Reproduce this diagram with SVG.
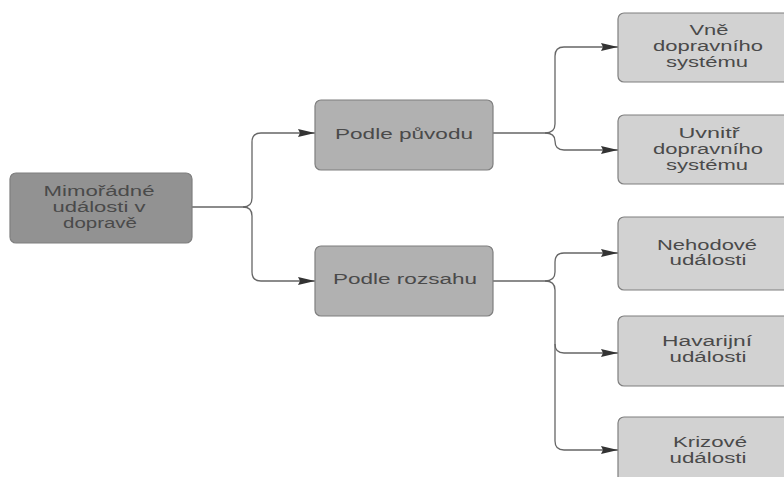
<svg xmlns="http://www.w3.org/2000/svg" width="784" height="477" viewBox="0 0 784 477">
<style>
  .n rect { stroke: #7f7f7f; stroke-width: 1.2; }
  .root rect { fill: #929292; }
  .mid rect { fill: #b1b1b1; }
  .leaf rect { fill: #d2d2d2; }
  text { font-family: "Liberation Sans", Arial, sans-serif; font-size: 14px; fill: #4a4a4a; text-anchor: middle; }
  .c path { fill: none; stroke: #666; stroke-width: 1.3; }
</style>
<defs>
  <marker id="ah" viewBox="0 0 17 8" refX="17" refY="4" markerWidth="17" markerHeight="8" markerUnits="userSpaceOnUse" orient="auto">
    <path d="M0,0 L17,4 L0,8 L2,4 Z" fill="#333"/>
  </marker>
</defs>
<rect width="784" height="477" fill="#fff"/>
<g class="c">
  <path d="M192,207 H243 Q252,207 252,198 V142 Q252,133 261,133 H315" marker-end="url(#ah)"/>
  <path d="M243,207 Q252,207 252,216 V272 Q252,281 261,281 H315" marker-end="url(#ah)"/>
  <path d="M493,133 H545 Q555,133 555,124 V56 Q555,47 564,47 H618" marker-end="url(#ah)"/>
  <path d="M545,133 Q555,133 555,141 Q555,150 564,150 H618" marker-end="url(#ah)"/>
  <path d="M493,281 H545 Q555,281 555,272 V262 Q555,253 564,253 H618" marker-end="url(#ah)"/>
  <path d="M545,281 Q555,281 555,290 V344 Q555,353 564,353 H618" marker-end="url(#ah)"/>
  <path d="M555,344 V441 Q555,450 564,450 H618" marker-end="url(#ah)"/>
</g>
<g id="root" class="n root">
  <rect x="10" y="173" width="182" height="70" rx="6"/>
  <text x="99" y="196" textLength="111" lengthAdjust="spacingAndGlyphs">Mimořádné</text>
  <text x="99" y="212" textLength="93" lengthAdjust="spacingAndGlyphs">události v</text>
  <text x="100" y="228" textLength="74" lengthAdjust="spacingAndGlyphs">dopravě</text>
</g>
<g id="puvod" class="n mid">
  <rect x="315" y="100" width="178" height="70" rx="6"/>
  <text x="404" y="139" textLength="138" lengthAdjust="spacingAndGlyphs">Podle původu</text>
</g>
<g id="rozsah" class="n mid">
  <rect x="315" y="246" width="178" height="70" rx="6"/>
  <text x="405" y="284" textLength="144" lengthAdjust="spacingAndGlyphs">Podle rozsahu</text>
</g>
<g id="vne" class="n leaf">
  <rect x="618" y="13" width="180" height="69" rx="6"/>
  <text x="709" y="35" textLength="39" lengthAdjust="spacingAndGlyphs">Vně</text>
  <text x="708" y="51" textLength="110" lengthAdjust="spacingAndGlyphs">dopravního</text>
  <text x="707" y="67" textLength="82" lengthAdjust="spacingAndGlyphs">systému</text>
</g>
<g id="uvnitr" class="n leaf">
  <rect x="618" y="115" width="180" height="69" rx="6"/>
  <text x="709" y="138" textLength="61" lengthAdjust="spacingAndGlyphs">Uvnitř</text>
  <text x="708" y="154" textLength="110" lengthAdjust="spacingAndGlyphs">dopravního</text>
  <text x="707" y="170" textLength="82" lengthAdjust="spacingAndGlyphs">systému</text>
</g>
<g id="nehodove" class="n leaf">
  <rect x="618" y="217" width="180" height="73" rx="6"/>
  <text x="707" y="250" textLength="100" lengthAdjust="spacingAndGlyphs">Nehodové</text>
  <text x="708" y="265" textLength="77" lengthAdjust="spacingAndGlyphs">události</text>
</g>
<g id="havarijni" class="n leaf">
  <rect x="618" y="316" width="180" height="70" rx="6"/>
  <text x="707" y="346" textLength="90" lengthAdjust="spacingAndGlyphs">Havarijní</text>
  <text x="708" y="362" textLength="77" lengthAdjust="spacingAndGlyphs">události</text>
</g>
<g id="krizove" class="n leaf">
  <rect x="618" y="417" width="180" height="70" rx="6"/>
  <text x="710" y="447" textLength="74" lengthAdjust="spacingAndGlyphs">Krizové</text>
  <text x="708" y="463" textLength="77" lengthAdjust="spacingAndGlyphs">události</text>
</g>
</svg>
